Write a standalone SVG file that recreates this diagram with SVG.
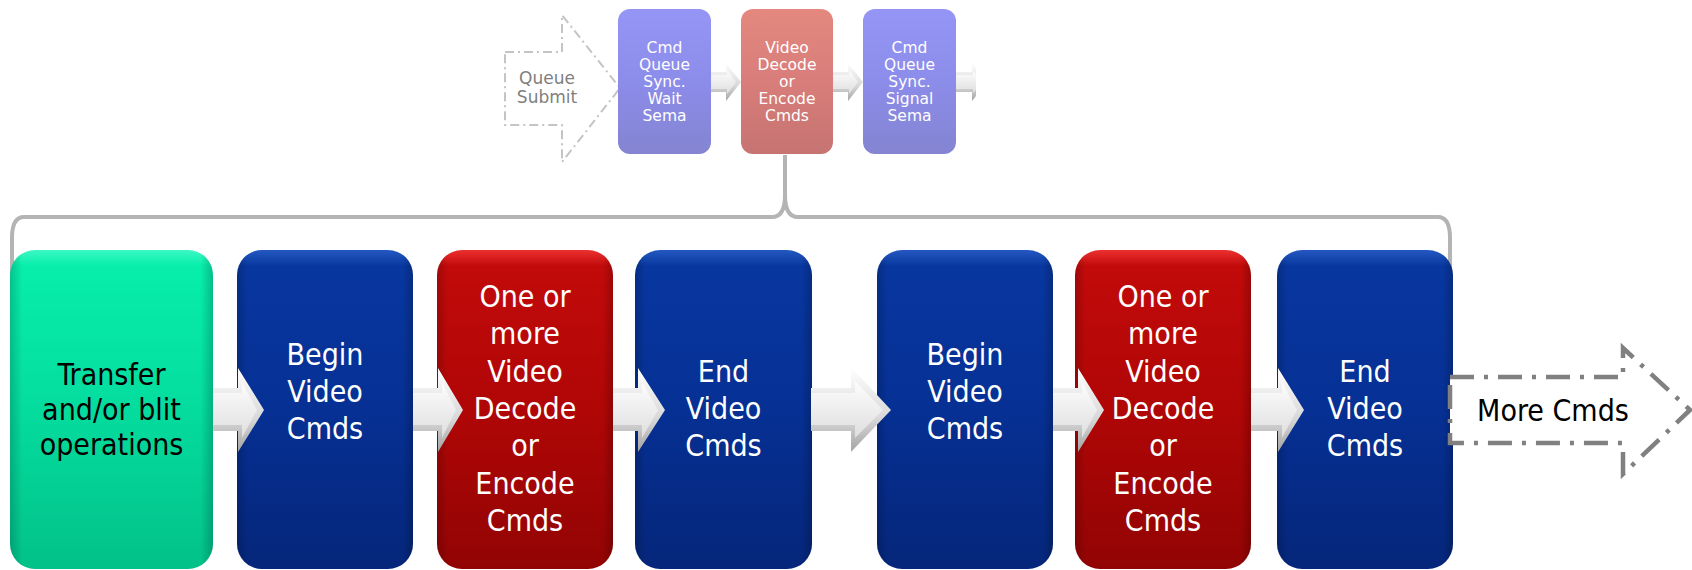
<svg xmlns="http://www.w3.org/2000/svg" width="1692" height="570" viewBox="0 0 1692 570">
  <defs>
    <linearGradient id="gGreen" x1="0" y1="0" x2="0" y2="1">
      <stop offset="0" stop-color="#3af8c4"/>
      <stop offset="0.05" stop-color="#07eeab"/>
      <stop offset="0.5" stop-color="#04dc9e"/>
      <stop offset="1" stop-color="#02c189"/>
    </linearGradient>
    <linearGradient id="gBlue" x1="0" y1="0" x2="0" y2="1">
      <stop offset="0" stop-color="#2458c0"/>
      <stop offset="0.05" stop-color="#0837a0"/>
      <stop offset="0.5" stop-color="#063094"/>
      <stop offset="1" stop-color="#05267a"/>
    </linearGradient>
    <linearGradient id="gRed" x1="0" y1="0" x2="0" y2="1">
      <stop offset="0" stop-color="#ec3030"/>
      <stop offset="0.05" stop-color="#c20a0a"/>
      <stop offset="0.5" stop-color="#b00606"/>
      <stop offset="1" stop-color="#920404"/>
    </linearGradient>
    <linearGradient id="gPurple" x1="0" y1="0" x2="0" y2="1">
      <stop offset="0" stop-color="#9595f6"/>
      <stop offset="0.5" stop-color="#8c8cea"/>
      <stop offset="1" stop-color="#8484d2"/>
    </linearGradient>
    <linearGradient id="gPink" x1="0" y1="0" x2="0" y2="1">
      <stop offset="0" stop-color="#e4887f"/>
      <stop offset="0.5" stop-color="#d87d7a"/>
      <stop offset="1" stop-color="#c67472"/>
    </linearGradient>
    <!-- darkened side edges for the glossy boxes -->
    <linearGradient id="gSides" x1="0" y1="0" x2="1" y2="0">
      <stop offset="0" stop-color="#000" stop-opacity="0.18"/>
      <stop offset="0.06" stop-color="#000" stop-opacity="0"/>
      <stop offset="0.94" stop-color="#000" stop-opacity="0"/>
      <stop offset="1" stop-color="#000" stop-opacity="0.2"/>
    </linearGradient>
    <linearGradient id="gArrowOuter" x1="0" y1="0" x2="0" y2="1">
      <stop offset="0" stop-color="#ffffff"/>
      <stop offset="0.6" stop-color="#d8d8d8"/>
      <stop offset="1" stop-color="#a4a4a4"/>
    </linearGradient>
    <linearGradient id="gArrowInner" x1="0" y1="0" x2="0" y2="1">
      <stop offset="0" stop-color="#fdfdfd"/>
      <stop offset="1" stop-color="#dedede"/>
    </linearGradient>
  </defs>
  <style>
    .t { font-family: "DejaVu Sans Condensed", "DejaVu Sans", "Liberation Sans", sans-serif; font-stretch: condensed; text-anchor: middle; }
    .s { font-family: "DejaVu Sans", "Liberation Sans", sans-serif; text-anchor: middle; }
    .big { font-size: 30px; fill: #ffffff; }
    .dark { fill: #000000; }
    .small { font-size: 15.5px; fill: #ffffff; }
    .qs { font-size: 17px; fill: #7f7f7f; }
    .sides { fill: url(#gSides); }
    .bracket { fill: none; stroke: #b4b4b4; stroke-width: 4; }
    .aOut { fill: url(#gArrowOuter); }
    .aIn { fill: url(#gArrowInner); }
    .dashTop { fill: #ffffff; stroke: #c4c4c4; stroke-width: 2; stroke-dasharray: 9 4 2 4; }
    .dashMore { fill: #ffffff; stroke: #808080; stroke-width: 4.5; stroke-dasharray: 24 10 4 10; }
  </style>

  <rect width="1692" height="570" fill="#ffffff"/>

  <!-- dashed "Queue Submit" entry arrow (tip tucks under the first queue box) -->
  <g id="queue-submit">
    <polygon class="dashTop" points="505,52 562,52 562,15 620,88 562,162 562,125 505,125"/>
    <text class="s qs" x="547" y="84">Queue</text>
    <text class="s qs" x="547" y="103">Submit</text>
  </g>

  <g id="connectors">
    <!-- bracket expanding the decode/encode submission -->
    <path class="bracket" d="M12,278 L12,238 Q12,217 24,217 L772,217 Q785,217 785,195 L785,155 M785,195 Q785,217 798,217 L1438,217 Q1450,217 1450,238 L1450,278"/>

    <!-- small queue arrows -->
    <polygon class="aOut" points="711,72 726,72 726,63 741,82 726,101 726,92 711,92"/>
    <polygon class="aIn" points="711,75 727,75 727,70 736,82 727,94 727,89 711,89"/>
    <polygon class="aOut" points="833,72 848,72 848,63 863,82 848,101 848,92 833,92"/>
    <polygon class="aIn" points="833,75 849,75 849,70 858,82 849,94 849,89 833,89"/>
    <polygon class="aOut" points="956,72 972,72 972,63 976,68 976,96 972,101 972,92 956,92"/>
    <polygon class="aIn" points="956,75 973,75 973,71 976,74 976,90 973,93 973,89 956,89"/>
  </g>

  <!-- queue submission -->
  <g id="wait-sema">
    <rect x="618" y="9" width="93" height="145" rx="12" fill="url(#gPurple)"/>
    <text class="s small" x="664.5" y="53">Cmd</text>
    <text class="s small" x="664.5" y="70">Queue</text>
    <text class="s small" x="664.5" y="87">Sync.</text>
    <text class="s small" x="664.5" y="104">Wait</text>
    <text class="s small" x="664.5" y="121">Sema</text>
  </g>
  <g id="video-cmds">
    <rect x="741" y="9" width="92" height="145" rx="12" fill="url(#gPink)"/>
    <text class="s small" x="787" y="53">Video</text>
    <text class="s small" x="787" y="70">Decode</text>
    <text class="s small" x="787" y="87">or</text>
    <text class="s small" x="787" y="104">Encode</text>
    <text class="s small" x="787" y="121">Cmds</text>
  </g>
  <g id="signal-sema">
    <rect x="863" y="9" width="93" height="145" rx="12" fill="url(#gPurple)"/>
    <text class="s small" x="909.5" y="53">Cmd</text>
    <text class="s small" x="909.5" y="70">Queue</text>
    <text class="s small" x="909.5" y="87">Sync.</text>
    <text class="s small" x="909.5" y="104">Signal</text>
    <text class="s small" x="909.5" y="121">Sema</text>
  </g>

  <!-- command buffer contents -->
  <g id="transfer">
    <rect x="10" y="250" width="203" height="319" rx="25" fill="url(#gGreen)"/>
    <rect class="sides" x="10" y="250" width="203" height="319" rx="25"/>
    <text class="t big dark" x="111.5" y="385">Transfer</text>
    <text class="t big dark" x="111.5" y="420">and/or blit</text>
    <text class="t big dark" x="111.5" y="455">operations</text>
  </g>
  <g id="begin-1">
    <rect x="237" y="250" width="176" height="319" rx="25" fill="url(#gBlue)"/>
    <rect class="sides" x="237" y="250" width="176" height="319" rx="25"/>
    <text class="t big" x="325" y="365">Begin</text>
    <text class="t big" x="325" y="402">Video</text>
    <text class="t big" x="325" y="439">Cmds</text>
  </g>
  <g id="coding-1">
    <rect x="437" y="250" width="176" height="319" rx="25" fill="url(#gRed)"/>
    <rect class="sides" x="437" y="250" width="176" height="319" rx="25"/>
    <text class="t big" x="525" y="307">One or</text>
    <text class="t big" x="525" y="344">more</text>
    <text class="t big" x="525" y="382">Video</text>
    <text class="t big" x="525" y="419">Decode</text>
    <text class="t big" x="525" y="456">or</text>
    <text class="t big" x="525" y="494">Encode</text>
    <text class="t big" x="525" y="531">Cmds</text>
  </g>
  <g id="end-1">
    <rect x="635" y="250" width="177" height="319" rx="25" fill="url(#gBlue)"/>
    <rect class="sides" x="635" y="250" width="177" height="319" rx="25"/>
    <text class="t big" x="723.5" y="382">End</text>
    <text class="t big" x="723.5" y="419">Video</text>
    <text class="t big" x="723.5" y="456">Cmds</text>
  </g>
  <g id="begin-2">
    <rect x="877" y="250" width="176" height="319" rx="25" fill="url(#gBlue)"/>
    <rect class="sides" x="877" y="250" width="176" height="319" rx="25"/>
    <text class="t big" x="965" y="365">Begin</text>
    <text class="t big" x="965" y="402">Video</text>
    <text class="t big" x="965" y="439">Cmds</text>
  </g>
  <g id="coding-2">
    <rect x="1075" y="250" width="176" height="319" rx="25" fill="url(#gRed)"/>
    <rect class="sides" x="1075" y="250" width="176" height="319" rx="25"/>
    <text class="t big" x="1163" y="307">One or</text>
    <text class="t big" x="1163" y="344">more</text>
    <text class="t big" x="1163" y="382">Video</text>
    <text class="t big" x="1163" y="419">Decode</text>
    <text class="t big" x="1163" y="456">or</text>
    <text class="t big" x="1163" y="494">Encode</text>
    <text class="t big" x="1163" y="531">Cmds</text>
  </g>
  <g id="end-2">
    <rect x="1277" y="250" width="176" height="319" rx="25" fill="url(#gBlue)"/>
    <rect class="sides" x="1277" y="250" width="176" height="319" rx="25"/>
    <text class="t big" x="1365" y="382">End</text>
    <text class="t big" x="1365" y="419">Video</text>
    <text class="t big" x="1365" y="456">Cmds</text>
  </g>

  <!-- flow arrows drawn over the box edges -->
  <g id="flow-arrows">
    <polygon class="aOut" points="213,388 238,388 238,368 264,410 238,452 238,431 213,431"/>
    <polygon class="aIn" points="213,393 242,393 242,382 257,410 242,438 242,425 213,425"/>
    <polygon class="aOut" points="413,388 438,388 438,368 463,410 438,452 438,431 413,431"/>
    <polygon class="aIn" points="413,393 442,393 442,382 456,410 442,438 442,425 413,425"/>
    <polygon class="aOut" points="613,388 638,388 638,368 665,410 638,452 638,431 613,431"/>
    <polygon class="aIn" points="613,393 642,393 642,382 658,410 642,438 642,425 613,425"/>
    <polygon class="aOut" points="811,388 851,388 851,367 891,410 851,452 851,431 811,431"/>
    <polygon class="aIn" points="811,393 855,393 855,381 883,410 855,438 855,425 811,425"/>
    <polygon class="aOut" points="1053,388 1078,388 1078,368 1104,410 1078,452 1078,431 1053,431"/>
    <polygon class="aIn" points="1053,393 1082,393 1082,382 1097,410 1082,438 1082,425 1053,425"/>
    <polygon class="aOut" points="1251,388 1278,388 1278,368 1304,410 1278,452 1278,431 1251,431"/>
    <polygon class="aIn" points="1251,393 1282,393 1282,382 1297,410 1282,438 1282,425 1251,425"/>
  </g>

  <g id="more-cmds">
    <polygon class="dashMore" points="1450,377 1623,377 1623,348 1690,410 1623,474 1623,443 1450,443"/>
    <text class="t big dark" x="1553" y="421">More Cmds</text>
  </g>
</svg>
